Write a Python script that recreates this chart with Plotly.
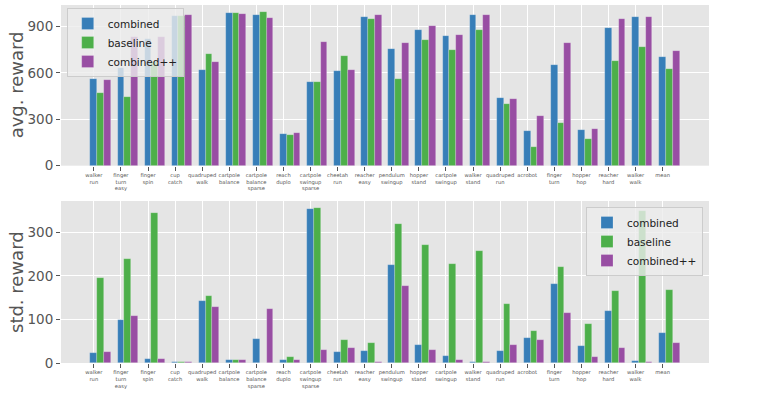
import plotly.graph_objects as go
from plotly.subplots import make_subplots

categories = ["walker<br>run", "finger<br>turn<br>easy", "finger<br>spin", "cup<br>catch",
              "quadruped<br>walk", "cartpole<br>balance", "cartpole<br>balance<br>sparse",
              "reach<br>duplo", "cartpole<br>swingup<br>sparse", "cheetah<br>run",
              "reacher<br>easy", "pendulum<br>swingup", "hopper<br>stand", "cartpole<br>swingup",
              "walker<br>stand", "quadruped<br>run", "acrobot", "finger<br>turn", "hopper<br>hop",
              "reacher<br>hard", "walker<br>walk", "mean"]

combined_avg = [561, 634, 820, 971, 617, 986, 975, 205, 540, 613, 960, 753, 880, 839, 977, 440, 224, 650, 229, 889, 960, 701]
baseline_avg = [473, 442, 670, 971, 721, 986, 995, 199, 540, 708, 947, 563, 811, 751, 876, 397, 121, 274, 173, 675, 766, 624]
combinedpp_avg = [555, 830, 831, 975, 671, 984, 954, 211, 798, 619, 973, 792, 904, 844, 975, 432, 324, 792, 235, 947, 960, 742]

combined_std = [23, 99, 8.5, 3, 143, 6, 55.5, 7, 354, 25, 28.5, 224, 41, 17, 1.5, 28.5, 58, 182, 39, 119, 4.6, 69]
baseline_std = [195, 238, 345, 3, 155, 6, 0.5, 14, 355, 53, 46, 319, 272, 228, 257, 136, 74, 220.5, 89, 166, 349, 167]
combinedpp_std = [25, 109, 8.5, 3, 128, 6, 125, 7, 30, 35, 3, 176, 30, 7, 2, 42, 52, 115, 14, 35.5, 2, 45]

series_names = ["combined", "baseline", "combined++"]
colors = ["#377eb8", "#4daf4a", "#984ea3"]
bar_w = 0.25

fig = make_subplots(rows=2, cols=1)
idx = list(range(len(categories)))

top_series = [combined_avg, baseline_avg, combinedpp_avg]
bot_series = [combined_std, baseline_std, combinedpp_std]
for k, (name, col) in enumerate(zip(series_names, colors)):
    xs = [i + k * bar_w for i in idx]
    fig.add_trace(go.Bar(x=xs, y=top_series[k], width=bar_w, name=name,
                         marker=dict(color=col, line=dict(width=0.6, color="rgba(255,255,255,0.35)")),
                         legend="legend"), row=1, col=1)
    fig.add_trace(go.Bar(x=xs, y=bot_series[k], width=bar_w, name=name,
                         marker=dict(color=col, line=dict(width=0.6, color="rgba(255,255,255,0.35)")),
                         legend="legend2"), row=2, col=1)

W, H = 761, 394
ml, mr, mt, mb = 61, 52, 5, 31
ph = H - mt - mb
pw = W - ml - mr
top_dom = [(H - mb - 165.7) / ph, 1.0]
bot_dom = [0.0, (H - mb - 201) / ph]

xrange = [-1.2125, 22.7125]
xcommon = dict(range=xrange, tickmode="array", tickvals=idx, ticktext=categories,
               tickfont=dict(size=5.2, color="#555555", family="DejaVu Sans"),
               ticks="outside", ticklen=4, tickcolor="#555555", tickwidth=1,
               showgrid=True, gridcolor="white", gridwidth=1.3, zeroline=False,
               showline=False, tickangle=0)
ycommon = dict(tickfont=dict(size=13.5, color="#555555", family="DejaVu Sans"),
               ticks="outside", ticklen=4, tickcolor="#555555", tickwidth=1,
               showgrid=True, gridcolor="white", gridwidth=1.3, zeroline=False,
               showline=False)

fig.update_layout(
    width=W, height=H,
    margin=dict(l=ml, r=mr, t=mt, b=mb, autoexpand=False),
    paper_bgcolor="white", plot_bgcolor="#E5E5E5",
    barmode="overlay", bargap=0,
    font=dict(family="DejaVu Sans", color="#555555"),
    xaxis=dict(**xcommon),
    xaxis2=dict(**xcommon),
    yaxis=dict(**ycommon, domain=top_dom, range=[0, 1040], tickvals=[0, 300, 600, 900]),
    yaxis2=dict(**ycommon, domain=bot_dom, range=[0, 372], tickvals=[0, 100, 200, 300]),
    legend=dict(x=(66.7 - ml) / pw, y=(H - mb - 8) / ph, xanchor="left", yanchor="top",
                bgcolor="rgba(236,236,236,0.8)", bordercolor="#CCCCCC", borderwidth=1,
                font=dict(size=10.5, color="#222222", family="DejaVu Sans"), tracegroupgap=0),
    legend2=dict(x=(703 - ml) / pw, y=(H - mb - 207) / ph, xanchor="right", yanchor="top",
                 bgcolor="rgba(236,236,236,0.8)", bordercolor="#CCCCCC", borderwidth=1,
                 font=dict(size=10.5, color="#222222", family="DejaVu Sans"), tracegroupgap=0),
    showlegend=True,
)

fig.add_annotation(text="avg. reward", xref="paper", yref="paper",
                   x=(16 - ml) / pw, y=(top_dom[0] + top_dom[1]) / 2,
                   textangle=-90, showarrow=False, xanchor="center", yanchor="middle",
                   font=dict(size=18, color="#555555", family="DejaVu Sans"))
fig.add_annotation(text="std. reward", xref="paper", yref="paper",
                   x=(16 - ml) / pw, y=(bot_dom[0] + bot_dom[1]) / 2,
                   textangle=-90, showarrow=False, xanchor="center", yanchor="middle",
                   font=dict(size=18, color="#555555", family="DejaVu Sans"))

fig.write_html("out.html", config={"displayModeBar": False},
               post_script="document.body.style.margin='0';document.body.style.padding='0';")
